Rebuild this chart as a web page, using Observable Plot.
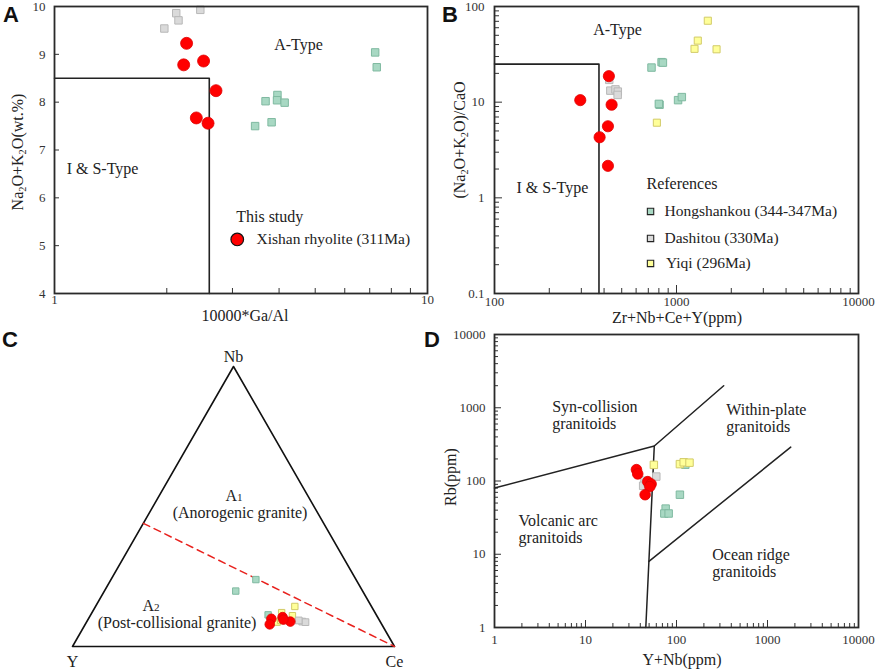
<!DOCTYPE html>
<html><head><meta charset="utf-8">
<script src="https://cdn.jsdelivr.net/npm/d3@7"></script>
<script src="https://cdn.jsdelivr.net/npm/@observablehq/plot@0.6"></script>
<style>
body{margin:0;background:#fff;}
#wrap{position:relative;width:879px;height:669px;overflow:hidden;}
.p{position:absolute;}
.lbl{position:absolute;font-family:"Liberation Serif","Times New Roman",serif;font-size:16px;white-space:nowrap;color:#222;line-height:1;}
.rot{transform:translate(-50%,-50%) rotate(-90deg);}
.ctr{transform:translate(-50%,-50%);}
.letter{position:absolute;font-family:"Liberation Sans",Arial,sans-serif;font-weight:bold;font-size:22px;color:#111;line-height:1;}
sub{font-size:65%;vertical-align:-0.25em;}
.smallsub{font-size:70%;}
</style></head><body><div id="wrap"></div>
<script>
// ---------------- DATA ----------------
// Panel A: 10000*Ga/Al vs Na2O+K2O
const A_this_x = [2.26, 2.22, 2.51, 2.71, 2.40, 2.58];
const A_this_y = [9.23, 8.78, 8.86, 8.24, 7.67, 7.56];
const A_dash_x = [1.97, 2.12, 2.15, 2.46];
const A_dash_y = [9.54, 9.86, 9.71, 9.93];
const A_hong_x = [3.68, 3.96, 3.95, 4.14, 3.82, 3.45, 7.24, 7.31];
const A_hong_y = [8.02, 8.15, 8.04, 7.99, 7.58, 7.50, 9.04, 8.73];
const A_bound_x = [1, 2.6, 2.6];
const A_bound_y = [8.5, 8.5, 4];
const A_xTickLabels = [1, 10];
const A_yTickLabels = [4, 5, 6, 7, 8, 9, 10];

// Panel B: Zr+Nb+Ce+Y vs (Na2O+K2O)/CaO
const B_this_x = [425, 296, 440, 420, 378, 420];
const B_this_y = [18.7, 10.5, 9.4, 5.6, 4.3, 2.16];
const B_dash_x = [427, 433, 462, 476, 475];
const B_dash_y = [17.1, 13.2, 13.6, 12.9, 11.9];
const B_hong_x = [729, 828, 842, 807, 800, 1020, 1070];
const B_hong_y = [23, 26.2, 25.9, 9.4, 9.6, 10.5, 11.3];
const B_yiqi_x = [1486, 1309, 1256, 1660, 780];
const B_yiqi_y = [71, 44, 36.1, 35.7, 6.1];
const B_bound_x = [100, 375, 375];
const B_bound_y = [25, 25, 0.1];
const B_xTickLabels = [100, 1000, 10000];
const B_yTickLabels = [0.1, 1, 10, 100];

// Panel C: ternary Nb - Y - Ce (percent Nb, percent Ce; Y = remainder)
const C_hong_Nb = [23.9, 19.8, 11.3];
const C_hong_Ce = [45.0, 40.8, 55.1];
const C_yiqi_Nb = [14.3, 12.1, 11.0, 8.7, 9.3];
const C_yiqi_Ce = [61.9, 58.9, 62.8, 59.2, 60.0];
const C_dash_Nb = [8.9, 8.7, 9.3];
const C_dash_Ce = [66.9, 68.0, 65.6];
const C_this_Nb = [9.9, 7.9, 10.5, 8.9, 9.6];
const C_this_Ce = [56.8, 57.3, 60.0, 63.2, 60.7];
const C_vertices = [{name: "Y", Y: 100, Nb: 0, Ce: 0}, {name: "Nb", Y: 0, Nb: 100, Ce: 0}, {name: "Ce", Y: 0, Nb: 0, Ce: 100}];
const C_divider = [{Y: 56, Nb: 44, Ce: 0}, {Y: 0, Nb: 0, Ce: 100}];

// Panel D: Y+Nb vs Rb
const D_this_x = [36.3, 37.5, 48.3, 52.6, 50.9, 45.2];
const D_this_y = [143, 125, 98, 91, 84, 65];
const D_dash_x = [44.5, 43, 60, 48];
const D_dash_y = [101, 86, 115, 95];
const D_yiqi_x = [56.4, 109, 120, 139];
const D_yiqi_y = [166, 170, 180, 178];
const D_hong_x = [109, 76, 73.5, 82, 125];
const D_hong_y = [65, 42, 36, 36, 167];
const D_line1_x = [1, 57, 330];   const D_line1_y = [80, 300, 2000];
const D_line2_x = [57, 46];       const D_line2_y = [300, 1];
const D_line3_x = [49.8, 1800];   const D_line3_y = [8, 290];
const D_tickLabels = [1, 10, 100, 1000, 10000];

// ---------------- HELPERS ----------------
const FONT = '"Liberation Serif","Times New Roman",serif';
const ST = {
  hong: {fill: "#a8d8c3", stroke: "#7fb9a0"},
  dash: {fill: "#dadada", stroke: "#b8b8b8"},
  yiqi: {fill: "#ffff99", stroke: "#d2cb68"},
  this: {fill: "#ff0000", stroke: "#e00000"}
};
const zip = (xs, ys) => xs.map((x, i) => ({x, y: ys[i]}));
function minorLog(lo, hi) {
  const out = [];
  for (let e = Math.floor(Math.log10(lo)); e < Math.ceil(Math.log10(hi)); e++)
    for (let m = 2; m < 10; m++) { const v = m * Math.pow(10, e); if (v > lo && v < hi) out.push(v); }
  return out;
}
const fmt = d => String(d);
const inX = (vals, len, FH) => Plot.tickX(vals, {x: d => d, insetTop: FH - len, stroke: "#333", strokeWidth: 1});
const inY = (vals, len, FW) => Plot.tickY(vals, {y: d => d, insetRight: FW - len, stroke: "#333", strokeWidth: 1});
const labX = (vals, dy) => Plot.text(vals, {x: d => d, text: fmt, frameAnchor: "bottom", dy, fontSize: 13, fill: "#333"});
const labY = (vals, dx) => Plot.text(vals, {y: d => d, text: fmt, frameAnchor: "left", dx: -dx, textAnchor: "end", fontSize: 13, fill: "#333"});
const sq = (data, st, r) => Plot.dot(data, {x: "x", y: "y", symbol: "square", r, fill: st.fill, stroke: st.stroke, strokeWidth: 1});
const circ = (data, r) => Plot.dot(data, {x: "x", y: "y", r, fill: ST.this.fill, stroke: ST.this.stroke, strokeWidth: 0.8});
const style = {fontFamily: FONT, fontSize: "13px", color: "#333", background: "transparent", overflow: "visible"};

const wrap = document.getElementById("wrap");
function place(svg, left, top) { svg.classList.add("p"); svg.style.left = left + "px"; svg.style.top = top + "px"; wrap.appendChild(svg); }
function label(html, x, y, cls) { const d = document.createElement("div"); d.className = "lbl " + (cls || ""); d.innerHTML = html; d.style.left = x + "px"; d.style.top = y + "px"; wrap.appendChild(d); return d; }
function letter(t, x, y) { const d = document.createElement("div"); d.className = "letter"; d.textContent = t; d.style.left = x + "px"; d.style.top = y + "px"; wrap.appendChild(d); }

// ---------------- PANEL A ----------------
{
  const W = 440, H = 325, mL = 54, mR = 13, mT = 6, mB = 32;
  const FW = W - mL - mR, FH = H - mT - mB;
  const p = Plot.plot({
    width: W, height: H, marginLeft: mL, marginRight: mR, marginTop: mT, marginBottom: mB, style,
    x: {type: "log", domain: [1, 10], axis: null}, y: {domain: [4, 10], axis: null},
    marks: [
      inX(minorLog(1, 10), 5, FH),
      inY(A_yTickLabels, 5, FW),
      labX(A_xTickLabels, 10),
      labY(A_yTickLabels, 9),
      Plot.line(zip(A_bound_x, A_bound_y), {x: "x", y: "y", stroke: "#222", strokeWidth: 1.6}),
      Plot.text([{x: 4.51, y: 9.19, t: "A-Type"}, {x: 1.345, y: 6.61, t: "I & S-Type"}], {x: "x", y: "y", text: "t", fontSize: 16, fill: "#222"}),
      Plot.text([{x: 3.07, y: 5.61, t: "This study"}], {x: "x", y: "y", text: "t", textAnchor: "start", fontSize: 16, fill: "#222"}),
      Plot.dot([{x: 3.09, y: 5.13}], {x: "x", y: "y", r: 6.3, fill: "#ff0000", stroke: "#111", strokeWidth: 1.2}),
      Plot.text([{x: 3.48, y: 5.13, t: "Xishan rhyolite (311Ma)"}], {x: "x", y: "y", text: "t", textAnchor: "start", fontSize: 15.5, fill: "#222"}),
      sq(zip(A_dash_x, A_dash_y), ST.dash, 4.2),
      sq(zip(A_hong_x, A_hong_y), ST.hong, 4.2),
      circ(zip(A_this_x, A_this_y), 6.0),
      Plot.frame({stroke: "#2a2a2a", strokeWidth: 1.8})
    ]
  });
  place(p, 0, 0);
}

// ---------------- PANEL B ----------------
{
  const W = 439, H = 325, mL = 54, mR = 21, mT = 6, mB = 32;
  const FW = W - mL - mR, FH = H - mT - mB;
  const p = Plot.plot({
    width: W, height: H, marginLeft: mL, marginRight: mR, marginTop: mT, marginBottom: mB, style,
    x: {type: "log", domain: [100, 10000], axis: null}, y: {type: "log", domain: [0.1, 100], axis: null},
    marks: [
      inX(minorLog(100, 10000), 5, FH),
      inX([1000], 8, FH),
      inY(minorLog(0.1, 100), 5, FW),
      inY(B_yTickLabels, 8, FW),
      labX(B_xTickLabels, 12),
      labY(B_yTickLabels, 10),
      Plot.line(zip(B_bound_x, B_bound_y), {x: "x", y: "y", stroke: "#222", strokeWidth: 1.6}),
      Plot.text([{x: 474, y: 57.5, t: "A-Type"}, {x: 208, y: 1.28, t: "I & S-Type"}], {x: "x", y: "y", text: "t", fontSize: 16, fill: "#222"}),
      Plot.text([{x: 684, y: 1.41, t: "References"}], {x: "x", y: "y", text: "t", textAnchor: "start", fontSize: 16, fill: "#222"}),
      Plot.dot([{x: 720, y: 0.72, k: "hong"}, {x: 720, y: 0.376, k: "dash"}, {x: 720, y: 0.206, k: "yiqi"}],
        {x: "x", y: "y", symbol: "square", r: 3.6, fill: d => ST[d.k].fill, stroke: "#222", strokeWidth: 1.1}),
      Plot.text([{x: 859, y: 0.72, t: "Hongshankou (344-347Ma)"}, {x: 859, y: 0.376, t: "Dashitou (330Ma)"}, {x: 875, y: 0.206, t: "Yiqi (296Ma)"}],
        {x: "x", y: "y", text: "t", textAnchor: "start", fontSize: 15.5, fill: "#222"}),
      sq(zip(B_dash_x, B_dash_y), ST.dash, 4.2),
      sq(zip(B_hong_x, B_hong_y), ST.hong, 4.2),
      sq(zip(B_yiqi_x, B_yiqi_y), ST.yiqi, 4.0),
      circ(zip(B_this_x, B_this_y), 5.6),
      Plot.frame({stroke: "#2a2a2a", strokeWidth: 1.8})
    ]
  });
  place(p, 440, 0);
}

// ---------------- PANEL C (ternary) ----------------
{
  const W = 440, H = 339, mL = 72, mR = 46, mT = 36, mB = 23;
  const s3 = Math.sqrt(3) / 2;
  const proj = d => { const s = d.Y + d.Nb + d.Ce; const a = d.Nb / s, c = d.Ce / s; return {...d, x: c + a / 2, y: a * s3}; };
  const tern = (nb, ce) => nb.map((n, i) => proj({Nb: n, Ce: ce[i], Y: 100 - n - ce[i]}));
  const verts = C_vertices.map(proj);
  const p = Plot.plot({
    width: W, height: H, marginLeft: mL, marginRight: mR, marginTop: mT, marginBottom: mB, style,
    x: {domain: [0, 1], axis: null}, y: {domain: [0, s3], axis: null},
    marks: [
      Plot.line([...verts, verts[0]], {x: "x", y: "y", stroke: "#111", strokeWidth: 1.6}),
      Plot.line(C_divider.map(proj), {x: "x", y: "y", stroke: "#e8211d", strokeWidth: 1.5, strokeDasharray: "7,5"}),
      Plot.text(verts.filter(d => d.name === "Nb"), {x: "x", y: "y", text: "name", dy: -10, fontSize: 16, fill: "#222"}),
      Plot.text(verts.filter(d => d.name !== "Nb"), {x: "x", y: "y", text: "name", dy: 15, fontSize: 16, fill: "#222"}),
      sq(tern(C_hong_Nb, C_hong_Ce), ST.hong, 3.6),
      sq(tern(C_yiqi_Nb, C_yiqi_Ce), ST.yiqi, 3.6),
      sq(tern(C_dash_Nb, C_dash_Ce), ST.dash, 3.8),
      circ(tern(C_this_Nb, C_this_Ce), 4.8)
    ]
  });
  place(p, 0, 330);
}

// ---------------- PANEL D ----------------
{
  const W = 439, H = 349, mL = 54, mR = 21, mT = 14, mB = 42;
  const FW = W - mL - mR, FH = H - mT - mB;
  const p = Plot.plot({
    width: W, height: H, marginLeft: mL, marginRight: mR, marginTop: mT, marginBottom: mB, style,
    x: {type: "log", domain: [1, 10000], axis: null}, y: {type: "log", domain: [1, 10000], axis: null},
    marks: [
      inX(minorLog(1, 10000), 4, FH),
      inX(D_tickLabels, 7, FH),
      inY(minorLog(1, 10000), 4, FW),
      inY(D_tickLabels, 7, FW),
      labX(D_tickLabels, 16),
      labY(D_tickLabels, 9),
      Plot.line(zip(D_line1_x, D_line1_y), {x: "x", y: "y", stroke: "#222", strokeWidth: 1.5}),
      Plot.line(zip(D_line2_x, D_line2_y), {x: "x", y: "y", stroke: "#222", strokeWidth: 1.5}),
      Plot.line(zip(D_line3_x, D_line3_y), {x: "x", y: "y", stroke: "#222", strokeWidth: 1.5}),
      Plot.text([
        {x: 4.3, y: 784, t: "Syn-collision\ngranitoids"},
        {x: 352, y: 724, t: "Within-plate\ngranitoids"},
        {x: 1.84, y: 22.1, t: "Volcanic arc\ngranitoids"},
        {x: 247, y: 7.6, t: "Ocean ridge\ngranitoids"}
      ], {x: "x", y: "y", text: "t", textAnchor: "start", fontSize: 16, lineHeight: 1.05, fill: "#222"}),
      sq(zip(D_dash_x, D_dash_y), ST.dash, 4.2),
      sq(zip(D_hong_x, D_hong_y), ST.hong, 4.2),
      sq(zip(D_yiqi_x, D_yiqi_y), ST.yiqi, 4.2),
      circ(zip(D_this_x, D_this_y), 5.3),
      Plot.frame({stroke: "#2a2a2a", strokeWidth: 1.8})
    ]
  });
  place(p, 440, 320);
}

// ---------------- TITLES / LETTERS ----------------
letter("A", 3, 4);
letter("B", 442, 4);
letter("C", 2, 329);
letter("D", 424, 329);
label("10000*Ga/Al", 245, 316, "ctr");
label("Na<sub>2</sub>O+K<sub>2</sub>O(wt.%)", 19, 152, "rot");
label("Zr+Nb+Ce+Y(ppm)", 677, 318, "ctr");
label("(Na<sub>2</sub>O+K<sub>2</sub>O)/CaO", 461, 140, "rot");
label("Y+Nb(ppm)", 682, 660, "ctr");
label("Rb(ppm)", 451, 477, "rot");
label("A<span class='smallsub'>1</span>", 234, 496, "ctr");
label("(Anorogenic granite)", 240, 513, "ctr");
label("A<span class='smallsub'>2</span>", 151, 606, "ctr");
label("(Post-collisional granite)", 177, 623, "ctr");
</script>
</body></html>
